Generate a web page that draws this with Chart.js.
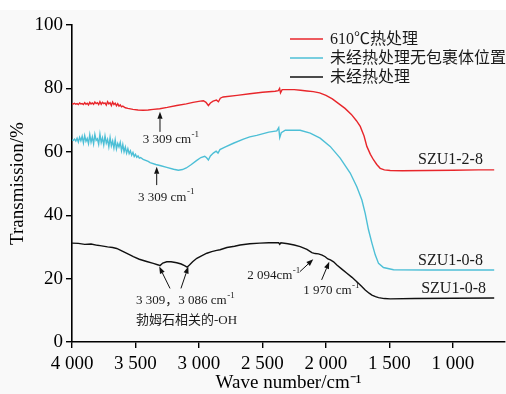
<!DOCTYPE html>
<html>
<head>
<meta charset="utf-8">
<script src="https://cdn.jsdelivr.net/npm/chart.js@4.4.1/dist/chart.umd.min.js"></script>
<style>
  html, body { margin: 0; padding: 0; background: #fff; }
  canvas { display: block; }
</style>
</head>
<body>
<canvas id="ftir" width="506" height="394"></canvas>
<script>
'use strict'

// ---- data ----
const xTicks = [4000, 3500, 3000, 2500, 2000, 1500, 1000]
const yTicks = [0, 20, 40, 60, 80, 100]

const seriesNames = ['610℃热处理', '未经热处理无包裹体位置', '未经热处理']
const sampleNames = ['SZU1-2-8', 'SZU1-0-8', 'SZU1-0-8']

// 610℃ heat treated
const redWave = [4000, 3990, 3980, 3970, 3960, 3950, 3940, 3930, 3920, 3910, 3900, 3890, 3880, 3870, 3860, 3850, 3840, 3830, 3820, 3810, 3800, 3790, 3780, 3770, 3760, 3750, 3740, 3730, 3720, 3710, 3700, 3690, 3680, 3670, 3660, 3650, 3640, 3630, 3620, 3610, 3600, 3580, 3560, 3520, 3480, 3440, 3400, 3360, 3309, 3250, 3175, 3100, 3047, 2990, 2965, 2945, 2926, 2910, 2889, 2862, 2847, 2832, 2810, 2700, 2600, 2500, 2400, 2375, 2365, 2358, 2345, 2300, 2250, 2200, 2150, 2100, 2050, 2000, 1950, 1900, 1850, 1800, 1760, 1730, 1700, 1678, 1650, 1626, 1600, 1573, 1540, 1494, 1400, 1200, 1000, 800, 675]
const redT = [75.2, 75.1, 75.3, 75.0, 75.2, 74.9, 75.4, 75.1, 75.2, 74.9, 75.5, 75.0, 75.3, 74.8, 75.6, 75.1, 75.4, 75.0, 75.7, 75.2, 75.5, 74.9, 75.8, 75.0, 75.6, 75.2, 75.4, 74.7, 75.8, 75.1, 75.5, 74.6, 75.7, 74.9, 75.3, 74.5, 75.2, 74.4, 74.8, 74.2, 74.4, 73.9, 73.7, 73.4, 73.2, 73.1, 73.2, 73.4, 73.6, 74.0, 74.6, 75.1, 75.6, 76.0, 76.1, 75.6, 74.6, 75.4, 76.0, 76.3, 75.8, 76.9, 77.3, 77.8, 78.3, 78.8, 79.1, 79.3, 80.0, 78.6, 79.6, 79.6, 79.6, 79.4, 79.2, 79.0, 78.6, 77.8, 76.7, 75.2, 73.7, 71.8, 69.8, 68.0, 65.0, 61.7, 59.2, 57.5, 56.0, 54.8, 54.3, 54.1, 54.0, 54.1, 54.2, 54.3, 54.3]

// untreated, inclusion-free spot
const cyanWave = [4000, 3990, 3980, 3970, 3960, 3950, 3940, 3930, 3920, 3910, 3900, 3890, 3880, 3870, 3860, 3850, 3840, 3830, 3820, 3810, 3800, 3790, 3780, 3770, 3760, 3750, 3740, 3730, 3720, 3710, 3700, 3690, 3680, 3670, 3660, 3650, 3640, 3630, 3620, 3610, 3600, 3590, 3580, 3570, 3560, 3550, 3540, 3530, 3520, 3510, 3500, 3490, 3480, 3470, 3460, 3440, 3400, 3385, 3340, 3300, 3254, 3200, 3162, 3130, 3100, 3060, 3020, 2985, 2955, 2940, 2926, 2910, 2887, 2865, 2850, 2835, 2800, 2729, 2650, 2600, 2545, 2450, 2387, 2372, 2364, 2352, 2320, 2282, 2203, 2124, 2046, 1967, 1888, 1809, 1757, 1717, 1691, 1665, 1638, 1612, 1586, 1547, 1468, 1200, 900, 675]
const cyanT = [63.8, 63.6, 64.0, 63.4, 64.3, 63.1, 64.6, 63.5, 64.9, 62.8, 65.1, 63.3, 64.2, 62.6, 65.4, 63.0, 64.7, 62.5, 65.5, 63.6, 64.1, 62.4, 65.6, 62.9, 64.4, 62.2, 65.0, 62.7, 63.9, 61.6, 64.5, 61.9, 63.4, 61.2, 63.8, 60.9, 62.6, 61.5, 63.0, 60.4, 62.3, 60.0, 61.5, 59.6, 61.0, 59.4, 60.3, 58.9, 59.8, 58.5, 59.2, 58.3, 58.7, 58.0, 58.2, 57.6, 57.0, 56.6, 56.0, 55.6, 55.1, 54.5, 54.2, 54.4, 54.9, 56.0, 57.2, 58.2, 58.6, 58.1, 57.4, 58.7, 59.6, 60.2, 59.6, 60.7, 61.4, 62.7, 64.0, 64.7, 65.2, 66.2, 66.6, 67.6, 64.5, 66.0, 66.8, 66.8, 66.8, 65.9, 64.3, 61.7, 58.0, 53.3, 49.0, 44.8, 40.6, 35.4, 31.2, 27.5, 24.8, 23.5, 22.8, 22.7, 22.7, 22.7]

// untreated
const blackWave = [4000, 3950, 3900, 3850, 3800, 3779, 3720, 3680, 3648, 3620, 3580, 3540, 3517, 3470, 3412, 3360, 3320, 3307, 3285, 3254, 3220, 3175, 3140, 3110, 3094, 3075, 3050, 3017, 2980, 2938, 2900, 2860, 2834, 2780, 2720, 2676, 2600, 2520, 2450, 2372, 2364, 2355, 2300, 2250, 2203, 2150, 2111, 2085, 2059, 2030, 2006, 1985, 1965, 1940, 1914, 1875, 1835, 1795, 1757, 1720, 1691, 1660, 1638, 1610, 1586, 1540, 1494, 1300, 1000, 675]
const blackT = [31.2, 31.1, 30.8, 30.9, 30.5, 30.4, 30.0, 29.8, 29.5, 29.0, 28.2, 27.4, 26.9, 26.1, 25.4, 24.8, 24.3, 24.1, 24.9, 25.3, 25.3, 25.0, 24.6, 24.0, 23.6, 24.3, 25.3, 26.4, 27.2, 28.0, 28.5, 28.9, 29.1, 29.8, 30.2, 30.6, 31.0, 31.2, 31.3, 31.3, 30.8, 31.3, 31.0, 30.6, 30.1, 29.2, 28.2, 27.9, 27.8, 27.4, 26.9, 26.2, 25.9, 25.3, 24.3, 23.0, 21.7, 20.4, 19.0, 17.6, 16.4, 15.4, 14.8, 14.3, 14.0, 13.7, 13.6, 13.7, 13.8, 13.9]

// ---- styling ----
const colors = ['#e8262b', '#4dbfd6', '#111111']
const serif = "'Liberation Serif', 'Times New Roman', 'Noto Sans CJK SC', serif"
const cjk = "'Liberation Serif', 'Noto Sans CJK SC', serif"

const toPoints = (xs, ys) => xs.map((x, i) => ({ x: x, y: ys[i] }))

const fmtWave = v => v >= 1000 ? Math.floor(v / 1000) + ' ' + String(v % 1000).padStart(3, '0') : String(v)

// annotations in data coordinates (wavenumber, transmission)
const arrows = [
    [3307, 66.3, 3307, 72.6],
    [3333, 49.5, 3333, 55.3],
    [3228, 16.9, 3313, 23.8],
    [3142, 16.9, 3084, 23.8],
    [2205, 22.2, 2100, 26.1],
    [2034, 19.6, 1974, 25.3]
]
const notes = [
    { w: 3443, t: 63.7, text: '3 309 cm', sup: '-1' },
    { w: 3480, t: 45.7, text: '3 309 cm', sup: '-1' },
    { w: 3496, t: 13.2, text: '3 309，3 086 cm', sup: '-1' },
    { w: 3496, t: 6.9, text: '勃姆石相关的-OH', sup: '' },
    { w: 2620, t: 20.8, text: '2 094cm', sup: '-1' },
    { w: 2179, t: 16.2, text: '1 970 cm', sup: '-1' }
]
const sampleAt = [[1275, 57.4], [1275, 25.6], [1250, 16.7]]

const background = {
    id: 'background',
    beforeDraw(chart) {
        const c = chart.ctx
        c.save()
        c.fillStyle = '#f9f9f9'
        c.fillRect(0, 0, chart.width, chart.height)
        c.fillStyle = '#ffffff'
        c.fillRect(0, 0, chart.width, 10)
        c.restore()
    }
}

const decorations = {
    id: 'decorations',
    afterDatasetsDraw(chart) {
        const c = chart.ctx
        const xs = chart.scales.x
        const ys = chart.scales.y
        c.save()

        // arrows
        c.strokeStyle = '#111'
        c.fillStyle = '#111'
        c.lineWidth = 1
        arrows.forEach(a => {
            const x0 = xs.getPixelForValue(a[0]), y0 = ys.getPixelForValue(a[1])
            const x1 = xs.getPixelForValue(a[2]), y1 = ys.getPixelForValue(a[3])
            const ang = Math.atan2(y1 - y0, x1 - x0)
            const len = 7, hw = 2.6
            const bx = x1 - len * Math.cos(ang), by = y1 - len * Math.sin(ang)
            c.beginPath()
            c.moveTo(x0, y0)
            c.lineTo(bx, by)
            c.stroke()
            c.beginPath()
            c.moveTo(x1, y1)
            c.lineTo(bx + hw * Math.sin(ang), by - hw * Math.cos(ang))
            c.lineTo(bx - hw * Math.sin(ang), by + hw * Math.cos(ang))
            c.closePath()
            c.fill()
        })

        // notes with superscript
        c.fillStyle = '#1a1a1a'
        c.textBaseline = 'middle'
        c.textAlign = 'left'
        notes.forEach(n => {
            const x = xs.getPixelForValue(n.w), y = ys.getPixelForValue(n.t)
            c.font = '13px ' + cjk
            c.fillText(n.text, x, y)
            if (n.sup) {
                const w = c.measureText(n.text).width
                c.font = '9px ' + serif
                c.fillText(n.sup, x + w + 0.5, y - 5)
            }
        })

        // sample labels
        c.font = '16px ' + serif
        sampleNames.forEach((s, i) => {
            c.fillText(s, xs.getPixelForValue(sampleAt[i][0]), ys.getPixelForValue(sampleAt[i][1]))
        })

        // legend
        c.font = '16px ' + cjk
        chart.data.datasets.forEach((ds, i) => {
            const y = 39 + i * 19
            c.strokeStyle = ds.borderColor
            c.lineWidth = 1.6
            c.beginPath()
            c.moveTo(290, y)
            c.lineTo(323, y)
            c.stroke()
            c.fillStyle = '#1a1a1a'
            c.fillText(ds.label, 330, y + 1)
        })
        c.restore()
    }
}

const tickFont = { family: serif, size: 19 }

new Chart(document.getElementById('ftir'), {
    type: 'line',
    data: {
        datasets: [
            { label: seriesNames[0], data: toPoints(redWave, redT), borderColor: colors[0] },
            { label: seriesNames[1], data: toPoints(cyanWave, cyanT), borderColor: colors[1] },
            { label: seriesNames[2], data: toPoints(blackWave, blackT), borderColor: colors[2] }
        ]
    },
    options: {
        responsive: false,
        animation: false,
        devicePixelRatio: 1,
        layout: { padding: { top: 25, right: 1, left: 0, bottom: 0 } },
        elements: {
            point: { radius: 0 },
            line: { borderWidth: 1.4, tension: 0 }
        },
        plugins: {
            legend: { display: false },
            tooltip: { enabled: false }
        },
        scales: {
            x: {
                type: 'linear',
                reverse: true,
                min: 590,
                max: 4000,
                afterBuildTicks: s => { s.ticks = xTicks.map(v => ({ value: v })) },
                afterFit: s => { s.height = 52 },
                grid: { drawOnChartArea: false, drawTicks: true, tickLength: 6, color: '#000', lineWidth: 1.4 },
                border: { color: '#000', width: 1.6 },
                ticks: { font: tickFont, color: '#000', maxRotation: 0, padding: 5, callback: v => fmtWave(v) },
                title: {
                    display: true, text: 'Wave number/cm⁻¹', color: '#000',
                    font: { family: serif, size: 19 }, padding: { top: 0, bottom: 0 }
                }
            },
            y: {
                min: 0,
                max: 100,
                afterBuildTicks: s => { s.ticks = yTicks.map(v => ({ value: v })) },
                afterFit: s => { s.width = 72 },
                grid: { drawOnChartArea: false, drawTicks: true, tickLength: 6, color: '#000', lineWidth: 1.4 },
                border: { color: '#000', width: 1.6 },
                ticks: { font: tickFont, color: '#000', padding: 3 },
                title: {
                    display: true, text: 'Transmission/%', color: '#000',
                    font: { family: serif, size: 19 }, padding: { top: 7, bottom: 0 }
                }
            }
        }
    },
    plugins: [background, decorations]
})
</script>
</body>
</html>
